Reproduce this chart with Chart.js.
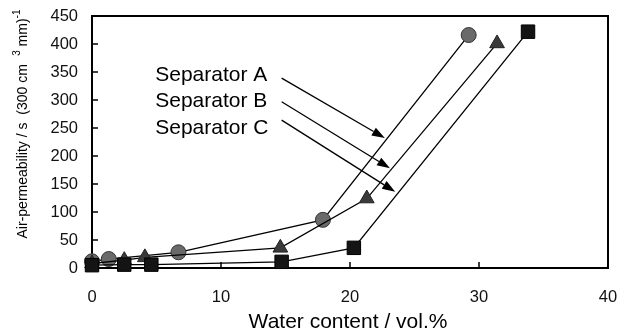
<!DOCTYPE html>
<html>
<head>
  <meta charset="UTF-8">
  <style>
    body { margin: 0; background: #fff; }
  </style>
</head>
<body>
  <canvas id="perm_chart" width="619" height="335"></canvas>

  <script src="https://cdn.jsdelivr.net/npm/chart.js"></script>
  <script>
    // water content (vol.%) vs air-permeability (s)
    const sepA_x = [0, 1.3, 6.7, 17.9, 29.2]
    const sepA_y = [12, 16, 28, 86, 416]
    const sepB_x = [0, 2.5, 4.1, 14.6, 21.3, 31.4]
    const sepB_y = [8, 14, 19, 36, 124, 401]
    const sepC_x = [0, 2.5, 4.6, 14.7, 20.3, 33.8]
    const sepC_y = [5, 6, 6, 11, 36, 422]

    const xTicks = [0, 10, 20, 30, 40]
    const yTicks = [0, 50, 100, 150, 200, 250, 300, 350, 400, 450]

    const seriesNames = ['Separator A', 'Separator B', 'Separator C']

    // callout text and arrows, in data units
    const calloutText = [[4.9, 334], [4.9, 287], [4.9, 240]]
    const arrowFrom = [[14.7, 339], [14.7, 297], [14.7, 264]]
    const arrowTo = [[22.7, 232], [23.1, 178], [23.5, 136]]

    const FONT = '"Liberation Sans", Arial, sans-serif'

    function toPoints(xs, ys){
      return xs.map((x, i) => ({x: x, y: ys[i]}))
    }

    const framePlugin = {
      id: 'frame',
      beforeDatasetsDraw(chart){
        const {ctx, chartArea: a, scales} = chart
        ctx.save()
        ctx.strokeStyle = '#000'
        ctx.lineWidth = 2
        ctx.strokeRect(a.left, a.top, a.right - a.left, a.bottom - a.top)
        // ticks point into the plot
        ctx.lineWidth = 1.5
        ctx.beginPath()
        yTicks.forEach(v => {
          const py = scales.y.getPixelForValue(v)
          ctx.moveTo(a.left, py)
          ctx.lineTo(a.left + 6, py)
        })
        xTicks.forEach(v => {
          const px = scales.x.getPixelForValue(v)
          ctx.moveTo(px, a.bottom)
          ctx.lineTo(px, a.bottom - 6)
        })
        ctx.stroke()
        ctx.restore()
      }
    }

    const calloutPlugin = {
      id: 'callouts',
      afterDatasetsDraw(chart){
        const {ctx, chartArea: a, scales} = chart
        const sx = scales.x, sy = scales.y
        ctx.save()
        ctx.fillStyle = '#000'
        ctx.strokeStyle = '#000'
        ctx.lineWidth = 1.3

        // arrows
        for(let i=0; i<arrowFrom.length; i++){
          const x1 = sx.getPixelForValue(arrowFrom[i][0])
          const y1 = sy.getPixelForValue(arrowFrom[i][1])
          const x2 = sx.getPixelForValue(arrowTo[i][0])
          const y2 = sy.getPixelForValue(arrowTo[i][1])
          const ang = Math.atan2(y2 - y1, x2 - x1)
          const headLen = 13, headW = 4.5
          const bx = x2 - headLen * Math.cos(ang)
          const by = y2 - headLen * Math.sin(ang)
          ctx.beginPath()
          ctx.moveTo(x1, y1)
          ctx.lineTo(bx, by)
          ctx.stroke()
          ctx.beginPath()
          ctx.moveTo(x2, y2)
          ctx.lineTo(bx + headW * Math.sin(ang), by - headW * Math.cos(ang))
          ctx.lineTo(bx - headW * Math.sin(ang), by + headW * Math.cos(ang))
          ctx.closePath()
          ctx.fill()
        }

        // series names
        ctx.font = '21px ' + FONT
        ctx.textAlign = 'left'
        ctx.textBaseline = 'alphabetic'
        seriesNames.forEach((name, i) => {
          ctx.fillText(name, sx.getPixelForValue(calloutText[i][0]), sy.getPixelForValue(calloutText[i][1]))
        })

        // x title
        ctx.font = '21px ' + FONT
        ctx.textAlign = 'center'
        ctx.textBaseline = 'middle'
        ctx.fillText('Water content / vol.%', (a.left + a.right) / 2 - 2, 322)

        // y title with superscripts, rotated
        const parts = [
          {t: 'Air-permeability / s  (300 cm', sup: false},
          {t: '   3', sup: true},
          {t: ' mm)', sup: false},
          {t: '-1', sup: true}
        ]
        const mainFont = '14px ' + FONT, supFont = '10px ' + FONT
        let total = 0
        parts.forEach(p => {
          ctx.font = p.sup ? supFont : mainFont
          p.w = ctx.measureText(p.t).width
          total += p.w
        })
        ctx.translate(23, 124)
        ctx.rotate(-Math.PI / 2)
        ctx.textAlign = 'left'
        ctx.textBaseline = 'middle'
        let cx = -total / 2
        parts.forEach(p => {
          ctx.font = p.sup ? supFont : mainFont
          ctx.fillText(p.t, cx, p.sup ? -6 : 0)
          cx += p.w
        })
        ctx.restore()
      }
    }

    const ctx = document.getElementById('perm_chart')
    const permChart = new Chart(ctx, {
      type: 'scatter',
      data: {
        datasets: [
          {
            label: seriesNames[2],
            data: toPoints(sepC_x, sepC_y),
            showLine: true,
            borderColor: '#000',
            borderWidth: 1.3,
            pointStyle: 'rect',
            pointRadius: 9.5,
            pointBackgroundColor: '#141414',
            pointBorderColor: '#000',
            pointBorderWidth: 1,
            clip: false
          },
          {
            label: seriesNames[1],
            data: toPoints(sepB_x, sepB_y),
            showLine: true,
            borderColor: '#000',
            borderWidth: 1.3,
            pointStyle: 'triangle',
            pointRadius: 8.5,
            pointBackgroundColor: '#3a3a3a',
            pointBorderColor: '#222',
            pointBorderWidth: 1,
            clip: false
          },
          {
            label: seriesNames[0],
            data: toPoints(sepA_x, sepA_y),
            showLine: true,
            borderColor: '#000',
            borderWidth: 1.3,
            pointStyle: 'circle',
            pointRadius: 7.5,
            pointBackgroundColor: '#6a6a6a',
            pointBorderColor: '#333',
            pointBorderWidth: 1,
            clip: false
          }
        ]
      },
      options: {
        responsive: false,
        animation: false,
        layout: {
          padding: {top: 16, right: 11, left: 0, bottom: 0}
        },
        plugins: {
          legend: {display: false},
          tooltip: {enabled: false}
        },
        scales: {
          x: {
            type: 'linear',
            min: 0,
            max: 40,
            afterFit: (scale) => {
              scale.height = 67
              scale.paddingLeft = 0
              scale.paddingRight = 0
            },
            afterBuildTicks: (scale) => { scale.ticks = xTicks.map(v => ({value: v})) },
            grid: {display: false, drawTicks: false},
            border: {display: false},
            ticks: {
              color: '#111',
              padding: 20,
              font: {family: FONT, size: 16.5}
            }
          },
          y: {
            type: 'linear',
            min: 0,
            max: 450,
            afterFit: (scale) => {
              scale.width = 92
              scale.paddingTop = 0
              scale.paddingBottom = 0
            },
            afterBuildTicks: (scale) => { scale.ticks = yTicks.map(v => ({value: v})) },
            grid: {display: false, drawTicks: false},
            border: {display: false},
            ticks: {
              color: '#111',
              padding: 14,
              font: {family: FONT, size: 16.5}
            }
          }
        }
      },
      plugins: [framePlugin, calloutPlugin]
    })
  </script>
</body>
</html>
